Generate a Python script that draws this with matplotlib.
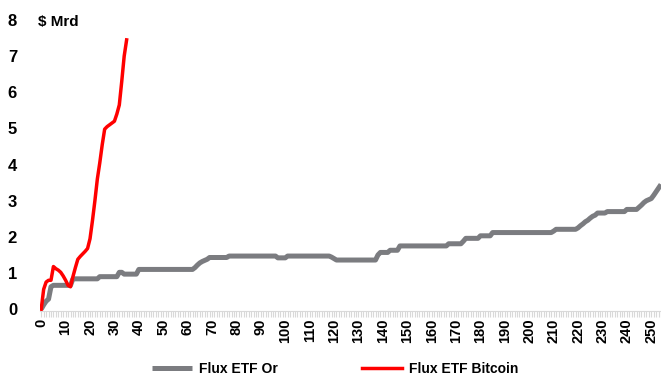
import matplotlib
matplotlib.use('Agg')
import matplotlib.pyplot as plt
from matplotlib.ticker import MultipleLocator
import numpy as np

plt.rcParams['font.family'] = ['Liberation Sans', 'DejaVu Sans']
plt.rcParams['font.weight'] = 'bold'

# Flux cumulés ETF Bitcoin (jours de cotation 0..35), en $ Mrd
btc_flux = [0.00, 0.55, 0.75, 0.80, 0.80, 1.18, 1.12, 1.08, 1.02, 0.92,
            0.80, 0.66, 0.62, 0.90, 1.15, 1.38, 1.46, 1.53, 1.60, 1.68,
            1.95, 2.45, 3.00, 3.60, 4.05, 4.55, 4.98, 5.05, 5.10, 5.15,
            5.20, 5.40, 5.65, 6.30, 7.00, 7.45]

# Flux cumulés ETF Or : paliers (niveau, nombre de jours)
gold_levels = [0.00, 0.12, 0.22, 0.28, 0.62, 0.66, 0.84, 0.90, 1.02, 0.97,
               1.10, 1.15, 1.22, 1.28, 1.32, 1.35, 1.38, 1.43, 1.47, 1.42,
               1.47, 1.44, 1.40, 1.36, 1.50, 1.57, 1.63, 1.75, 1.81, 1.88,
               1.96, 2.03, 2.12, 2.16, 2.21, 2.25, 2.31, 2.36, 2.42, 2.46,
               2.52, 2.57, 2.60, 2.66, 2.70, 2.76, 2.82, 2.88, 2.95, 3.00,
               3.03, 3.06, 3.15, 3.25, 3.35, 3.45]
gold_runs = [1, 1, 1, 1, 1, 8, 11, 8, 2, 6,
             23, 1, 1, 1, 1, 1, 1, 8, 20, 4,
             18, 1, 1, 17, 1, 4, 4, 20, 6, 1,
             6, 5, 25, 1, 9, 1, 1, 1, 1, 1,
             1, 1, 1, 4, 8, 5, 1, 1, 1, 1,
             1, 1, 1, 1, 1, 1]

gold_flux = np.repeat(gold_levels, gold_runs)

fig = plt.figure(figsize=(6.61, 3.76), dpi=100)
ax = fig.add_axes([40 / 661, 1 - 311 / 376, 621 / 661, 291 / 376])

ax.plot(np.arange(len(gold_flux)), gold_flux, color='#7b7c80', linewidth=3.6,
        solid_capstyle='butt', label='Flux ETF Or', zorder=2)
ax.plot(np.arange(len(btc_flux)), btc_flux, color='#ff0000', linewidth=2.5,
        label='Flux ETF Bitcoin', zorder=3)

ax.set_xlim(-0.5, 254)
ax.set_ylim(-0.05, 8)
ax.xaxis.set_major_locator(MultipleLocator(10))
ax.xaxis.set_minor_locator(MultipleLocator(1))
ax.set_yticks(range(0, 9))

for s in ['top', 'right', 'left']:
    ax.spines[s].set_visible(False)
ax.spines['bottom'].set_color('#d9d9d9')
ax.tick_params(axis='x', which='both', direction='out', length=4.5, width=0.8,
               color='#d9d9d9', labelrotation=90, labelsize=10.5, pad=1)
ax.tick_params(axis='y', length=0, labelsize=12, pad=16.5)
for lab in ax.get_xticklabels() + ax.get_yticklabels():
    lab.set_fontweight('bold')

fig.text(38 / 661, 1 - 22 / 376, '$ Mrd', fontsize=11, fontweight='bold',
         va='center', ha='left')

leg = fig.legend(loc='center', bbox_to_anchor=(0.507, 1 - 369 / 376), ncol=2,
                 frameon=False, fontsize=10, handlelength=2.9, columnspacing=6,
                 handletextpad=0.5)
for t in leg.get_texts():
    t.set_fontweight('bold')

plt.savefig('out.png', dpi=100)
plt.close()
